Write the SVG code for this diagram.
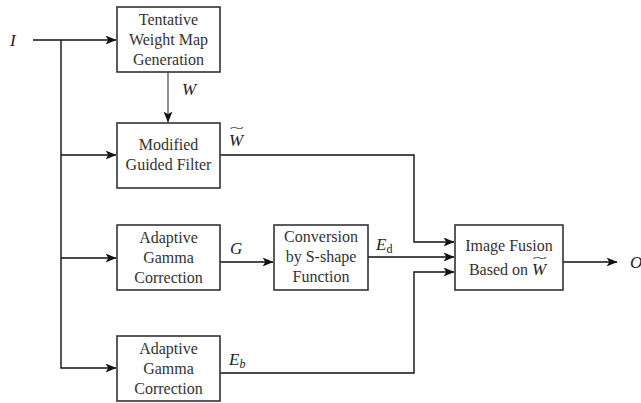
<svg xmlns="http://www.w3.org/2000/svg" width="641" height="403" viewBox="0 0 641 403">
<defs>
<style>
.box{fill:#fff;stroke:#333;stroke-width:1.6}
.t{font-family:"Liberation Serif","Times New Roman",serif;font-size:16px;fill:#333;text-anchor:middle}
.m{font-family:"Liberation Serif","Times New Roman",serif;font-size:17px;font-style:italic;fill:#222}
.tl{font-family:"Liberation Serif","Times New Roman",serif;font-size:14px;fill:#222}
.c{fill:none;stroke:#111;stroke-width:1.4}
.c1{fill:none;stroke:#222;stroke-width:1}
</style>
<marker id="a" viewBox="0 0 11 9" refX="10.5" refY="4.5" markerWidth="11" markerHeight="9" markerUnits="userSpaceOnUse" orient="auto">
<path d="M0,0 L11,4.5 L0,9 L2.8,4.5 Z" fill="#111"/>
</marker>
</defs>
<rect width="641" height="403" fill="#fff"/>
<g id="connectors">
<path class="c" d="M33,40 H116" marker-end="url(#a)"/>
<path class="c" d="M61,40 V368 H116" marker-end="url(#a)"/>
<path class="c" d="M61,155 H116" marker-end="url(#a)"/>
<path class="c" d="M61,258 H116" marker-end="url(#a)"/>
<path class="c1" d="M168,72 V122" marker-end="url(#a)"/>
<path class="c" d="M220,155 H414 V242 H454" marker-end="url(#a)"/>
<path class="c" d="M220,262 H273" marker-end="url(#a)"/>
<path class="c" d="M368,257 H454" marker-end="url(#a)"/>
<path class="c" d="M220,373 H414 V272 H454" marker-end="url(#a)"/>
<path class="c" d="M563,262 H617" marker-end="url(#a)"/>
</g>
<g id="labels">
<text class="m" x="10" y="46">I</text>
<text class="m" x="182" y="95">W</text>
<text class="m" x="229" y="146">W</text>
<text class="tl" transform="translate(229.5,132) scale(1.9,0.9)">~</text>
<text class="m" x="230" y="254">G</text>
<text class="m" x="376" y="250">E<tspan font-size="12" font-style="normal" dy="3">d</tspan></text>
<text class="m" x="229" y="365">E<tspan font-size="12" dy="3">b</tspan></text>
<text class="m" x="630" y="268">O</text>
</g>
<g id="tentative">
<rect class="box" x="117" y="7" width="103" height="65"/>
<text class="t" x="168.5" y="25">Tentative</text>
<text class="t" x="168.5" y="45">Weight Map</text>
<text class="t" x="168.5" y="65">Generation</text>
</g>
<g id="guided">
<rect class="box" x="117" y="123" width="103" height="65"/>
<text class="t" x="168.5" y="150">Modified</text>
<text class="t" x="168.5" y="170">Guided Filter</text>
</g>
<g id="agc1">
<rect class="box" x="117" y="225" width="103" height="65"/>
<text class="t" x="168.5" y="243">Adaptive</text>
<text class="t" x="168.5" y="263">Gamma</text>
<text class="t" x="168.5" y="283">Correction</text>
</g>
<g id="agc2">
<rect class="box" x="117" y="336" width="103" height="65"/>
<text class="t" x="168.5" y="354">Adaptive</text>
<text class="t" x="168.5" y="374">Gamma</text>
<text class="t" x="168.5" y="394">Correction</text>
</g>
<g id="sshape">
<rect class="box" x="274" y="225" width="94" height="65"/>
<text class="t" x="321" y="242">Conversion</text>
<text class="t" x="321" y="262">by S-shape</text>
<text class="t" x="321" y="282">Function</text>
</g>
<g id="fusion">
<rect class="box" x="455" y="225" width="108" height="65"/>
<text class="t" x="509" y="251">Image Fusion</text>
<text class="t" x="528" y="275" style="text-anchor:end">Based on</text>
<text class="m" x="532" y="275">W</text>
<text class="tl" transform="translate(532.5,262) scale(1.9,0.9)">~</text>
</g>
</svg>
